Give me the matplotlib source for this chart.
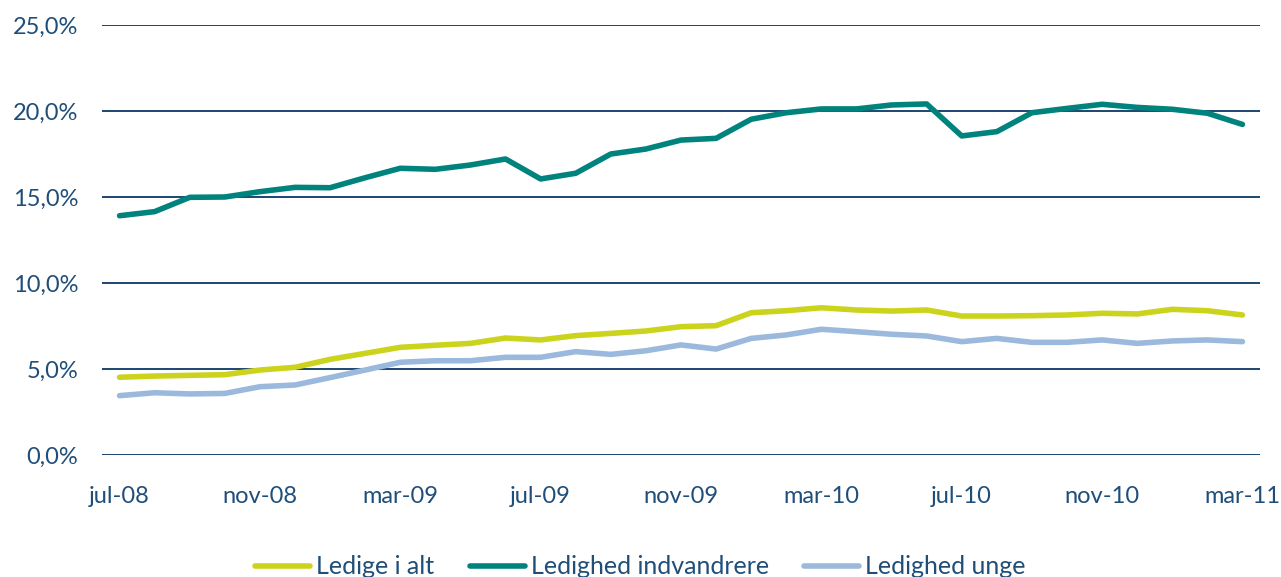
import numpy as np
import matplotlib.pyplot as plt

# data (percent)
months = ['jul-08', 'aug-08', 'sep-08', 'okt-08', 'nov-08', 'dec-08', 'jan-09', 'feb-09',
          'mar-09', 'apr-09', 'maj-09', 'jun-09', 'jul-09', 'aug-09', 'sep-09', 'okt-09',
          'nov-09', 'dec-09', 'jan-10', 'feb-10', 'mar-10', 'apr-10', 'maj-10', 'jun-10',
          'jul-10', 'aug-10', 'sep-10', 'okt-10', 'nov-10', 'dec-10', 'jan-11', 'feb-11',
          'mar-11']

ledige_i_alt = [4.52, 4.59, 4.63, 4.67, 4.94, 5.10, 5.56, 5.91, 6.26, 6.38, 6.49, 6.80,
                6.69, 6.94, 7.07, 7.21, 7.46, 7.52, 8.27, 8.39, 8.56, 8.43, 8.37, 8.43,
                8.08, 8.08, 8.10, 8.14, 8.24, 8.20, 8.47, 8.39, 8.14]

indvandrere = [13.91, 14.15, 14.98, 15.00, 15.31, 15.56, 15.54, 16.12, 16.67, 16.61, 16.86,
               17.21, 16.05, 16.38, 17.50, 17.79, 18.31, 18.41, 19.52, 19.90, 20.12, 20.12,
               20.35, 20.41, 18.55, 18.80, 19.90, 20.15, 20.39, 20.21, 20.10, 19.87, 19.22]

unge = [3.45, 3.62, 3.55, 3.58, 3.97, 4.07, 4.50, 4.94, 5.39, 5.48, 5.48, 5.68, 5.68,
        6.01, 5.85, 6.06, 6.40, 6.16, 6.78, 6.98, 7.31, 7.17, 7.02, 6.92, 6.59, 6.78,
        6.55, 6.55, 6.69, 6.49, 6.63, 6.69, 6.59]

text_col = '#1F4E79'
grid_col = '#1B4670'

plt.rcParams['font.family'] = ['Lato', 'DejaVu Sans']

fig = plt.figure(figsize=(12.81, 5.77), dpi=100)
ax = fig.add_axes([102 / 1281, 1 - 455 / 577, (1260 - 102) / 1281, 430 / 577])

x = np.arange(len(months))
lw = 4.0
ax.plot(x, ledige_i_alt, color='#CCD31D', lw=lw, solid_capstyle='round', label='Ledige i alt')
ax.plot(x, indvandrere, color='#00837D', lw=lw, solid_capstyle='round', label='Ledighed indvandrere')
ax.plot(x, unge, color='#9BB9DC', lw=lw, solid_capstyle='round', label='Ledighed unge')

ax.set_xlim(-0.5, len(months) - 0.5)
ax.set_ylim(0, 25)
yt = np.arange(0, 26, 5)
ax.set_yticks(yt)
ax.set_yticklabels([f'{v:.1f}%'.replace('.', ',') for v in yt])
ax.set_xticks(x[::4])
ax.set_xticklabels(months[::4])

for v in yt:
    ax.axhline(v, color=grid_col, lw=1.4, zorder=0)

for s in ax.spines.values():
    s.set_visible(False)
ax.tick_params(length=0, labelsize=17, colors=text_col)
ax.tick_params(axis='y', pad=17)
ax.tick_params(axis='x', pad=22)

leg = fig.legend(loc='center', bbox_to_anchor=(0.5, 1 - 567 / 577), ncol=3, frameon=False,
                 fontsize=18, handlelength=2.2, columnspacing=1.4, handletextpad=0.25)
for t in leg.get_texts():
    t.set_color(text_col)

fig.savefig('out.png', dpi=100)
